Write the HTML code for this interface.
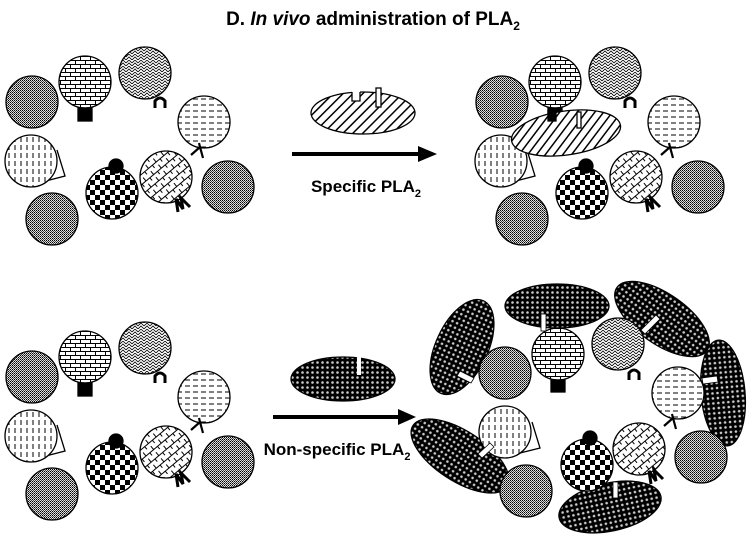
<!DOCTYPE html>
<html><head><meta charset="utf-8"><style>
html,body{margin:0;padding:0;background:#fff;}
svg{display:block;}
text{font-family:"Liberation Sans",Arial,sans-serif;font-weight:bold;}
</style></head><body>
<svg width="752" height="546" viewBox="0 0 752 546" xmlns="http://www.w3.org/2000/svg">
<defs>
<pattern id="pd" width="2" height="2" patternUnits="userSpaceOnUse"><rect width="2" height="2" fill="#ddd"/><rect width="1" height="1" fill="#000"/><rect x="1" y="1" width="1" height="1" fill="#444"/></pattern>
<pattern id="pb" width="10" height="8" patternUnits="userSpaceOnUse"><rect width="10" height="8" fill="#fff"/><path d="M0 .5H10M0 4.5H10M.5 0V4M5.5 4V8" stroke="#000" stroke-width="1"/></pattern>
<pattern id="ph" width="6" height="6" patternUnits="userSpaceOnUse"><rect width="6" height="6" fill="#fff"/><path d="M0 3L3 0L6 3M0 6L3 3L6 6" stroke="#000" stroke-width="0.8" fill="none"/></pattern>
<pattern id="phd" width="8" height="6" patternUnits="userSpaceOnUse"><rect width="8" height="6" fill="#fff"/><path d="M1 3H6" stroke="#000" stroke-width="1"/></pattern>
<pattern id="pvd" width="6" height="8" patternUnits="userSpaceOnUse"><rect width="6" height="8" fill="#fff"/><path d="M3 1V6" stroke="#000" stroke-width="1"/></pattern>
<pattern id="pc" width="10" height="10" patternUnits="userSpaceOnUse"><rect width="10" height="10" fill="#fff"/><rect width="5" height="5" fill="#000"/><rect x="5" y="5" width="5" height="5" fill="#000"/></pattern>
<pattern id="pdb" width="10" height="8" patternUnits="userSpaceOnUse" patternTransform="rotate(-40)"><rect width="10" height="8" fill="#fff"/><path d="M0 .5H10M.5 0V4M5.5 4V8" stroke="#000" stroke-width="1"/></pattern>
<pattern id="pdh" width="7" height="7" patternUnits="userSpaceOnUse" patternTransform="rotate(45)"><rect width="7" height="7" fill="#fff"/><path d="M0 0V7" stroke="#000" stroke-width="3"/></pattern>
<pattern id="pk" width="5" height="5" patternUnits="userSpaceOnUse"><rect width="5" height="5" fill="#000"/><circle cx="2.5" cy="2.5" r="1.3" fill="#ccc"/></pattern>
<g id="cl" stroke="#000" stroke-width="1.3">
 <circle cx="32" cy="102" r="26" fill="url(#pd)"/>
 <circle cx="85" cy="82" r="26" fill="url(#pb)"/>
 <rect x="78" y="108" width="14" height="13" fill="#000"/>
 <circle cx="145" cy="73" r="26" fill="url(#ph)"/>
 <path d="M155 108V101Q160 95 165 101V108" fill="none" stroke-width="3"/>
 <circle cx="204" cy="122" r="26" fill="url(#phd)"/>
 <path d="M191 155L200 147L203 158M200 147L199 143" fill="none" stroke-width="2.2"/>
 <path d="M38 183L65 176L57 150" fill="#fff"/>
 <circle cx="31" cy="161" r="26" fill="url(#pvd)"/>
 <circle cx="112" cy="193" r="26" fill="url(#pc)"/>
 <circle cx="116" cy="166" r="7" fill="#000"/>
 <circle cx="166" cy="177" r="26" fill="url(#pdb)"/>
 <path d="M178 212L176 199L183 209L181 198L190 207" fill="none" stroke-width="3"/>
 <circle cx="228" cy="187" r="26" fill="url(#pd)"/>
 <circle cx="52" cy="219" r="26" fill="url(#pd)"/>
</g>
<g id="cr" stroke="#000" stroke-width="1.3">
 <circle cx="505" cy="373" r="26" fill="url(#pd)"/>
 <circle cx="558" cy="354" r="26" fill="url(#pb)"/>
 <rect x="551" y="380" width="14" height="12" fill="#000"/>
 <circle cx="618" cy="344" r="26" fill="url(#ph)"/>
 <path d="M629 380V373Q634 367 639 373V380" fill="none" stroke-width="3"/>
 <circle cx="678" cy="393" r="26" fill="url(#phd)"/>
 <path d="M664 426L673 418L676 429M673 418L672 414" fill="none" stroke-width="2.2"/>
 <path d="M512 455L540 448L532 422" fill="#fff"/>
 <circle cx="505" cy="432" r="26" fill="url(#pvd)"/>
 <circle cx="587" cy="465" r="26" fill="url(#pc)"/>
 <circle cx="590" cy="438" r="7" fill="#000"/>
 <circle cx="639" cy="449" r="26" fill="url(#pdb)"/>
 <path d="M651 484L649 471L656 481L654 470L663 479" fill="none" stroke-width="3"/>
 <circle cx="701" cy="457" r="26" fill="url(#pd)"/>
 <circle cx="526" cy="491" r="26" fill="url(#pd)"/>
</g>
</defs>

<text x="373" y="25" font-size="19" text-anchor="middle">D. <tspan font-style="italic">In vivo</tspan> administration of PLA<tspan font-size="12" dy="5">2</tspan></text>

<use href="#cl"/>
<use href="#cl" transform="translate(470,0)"/>
<g stroke="#000" stroke-width="1.3">
 <ellipse cx="566" cy="133" rx="55" ry="22" transform="rotate(-8 566 133)" fill="url(#pdh)"/>
 <rect x="548" y="110" width="8" height="11" fill="#000"/>
 <rect x="577" y="112" width="4" height="16" fill="#fff"/>
</g>
<g stroke="#000" stroke-width="1.3">
 <ellipse cx="363" cy="113" rx="52" ry="21" fill="url(#pdh)"/>
 <rect x="352" y="89" width="8" height="12" fill="#fff" stroke="none"/>
 <path d="M352 92V101H360V92" fill="none"/>
 <rect x="376" y="88" width="5" height="19" fill="#fff"/>
</g>
<path d="M292 154H420" stroke="#000" stroke-width="4"/>
<path d="M418 146L437 154L418 162Z" fill="#000"/>
<text x="366" y="192" font-size="17" text-anchor="middle">Specific PLA<tspan font-size="11" dy="5">2</tspan></text>

<use href="#cl" transform="translate(0,275)"/>
<g stroke="#000" stroke-width="1.3">
 <ellipse cx="343" cy="379" rx="52" ry="22" fill="url(#pk)"/>
 <rect x="357" y="356" width="4" height="19" fill="#fff" stroke="none"/>
</g>
<path d="M273 417H400" stroke="#000" stroke-width="4"/>
<path d="M398 409L416 417L398 425Z" fill="#000"/>
<text x="337" y="455" font-size="17" text-anchor="middle">Non-specific PLA<tspan font-size="11" dy="5">2</tspan></text>

<g stroke="#000" stroke-width="1.3" fill="url(#pk)">
 <ellipse cx="462" cy="347" rx="26" ry="51" transform="rotate(25 462 347)"/>
 <ellipse cx="557" cy="306" rx="52" ry="22"/>
 <ellipse cx="662" cy="319" rx="55" ry="25" transform="rotate(35 662 319)"/>
 <ellipse cx="723" cy="393" rx="22" ry="53" transform="rotate(-5 723 393)"/>
 <ellipse cx="460" cy="456" rx="56" ry="25" transform="rotate(33 460 456)"/>
 <ellipse cx="610" cy="507" rx="52" ry="24" transform="rotate(-12 610 507)"/>
</g>
<use href="#cr"/>
<g fill="#fff" stroke="#000" stroke-width="0.8">
 <rect x="541" y="314" width="5" height="17"/>
 <path d="M641 330L656 315L660 319L645 334Z"/>
 <path d="M702 378L717 376L718 382L703 384Z"/>
 <path d="M460 371L474 378L471 383L457 376Z"/>
 <path d="M478 454L490 443L494 447L482 458Z"/>
 <rect x="613" y="482" width="5" height="16"/>
</g>
</svg>
</body></html>
